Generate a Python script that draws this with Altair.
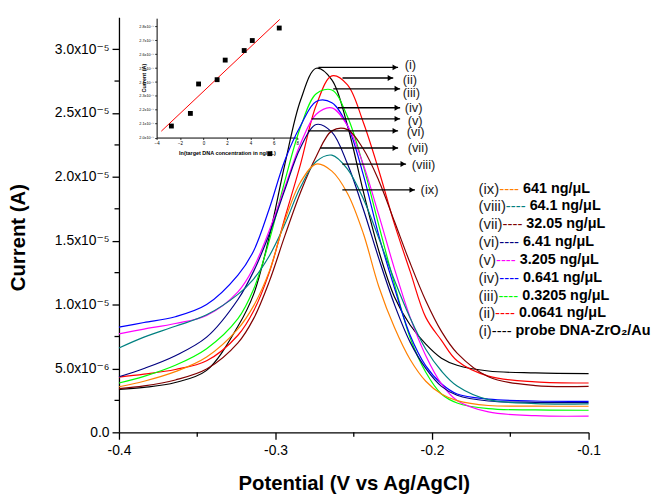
import altair as alt
import pandas as pd

FONT = "Liberation Sans, Arial, DejaVu Sans, sans-serif"

# ---------------- main DPV curves (current in 1e-6 A) ----------------
potential = [-0.400, -0.384, -0.364, -0.344, -0.324, -0.314, -0.304, -0.294, -0.284, -0.274, -0.264,
             -0.254, -0.244, -0.234, -0.224, -0.214, -0.204, -0.194, -0.184, -0.164, -0.134, -0.100]

cur_i = [3.36, 3.52, 3.90, 4.85, 8.3, 10.8, 15.3, 21.0, 26.0, 28.5, 27.6,
         24.0, 18.9, 14.2, 10.6, 8.4, 6.9, 5.8, 5.25, 4.8, 4.65, 4.6]
cur_ii = [4.32, 4.55, 4.92, 5.6, 7.6, 9.5, 12.5, 16.8, 21.0, 25.6, 27.9,
          27.2, 24.3, 20.5, 16.3, 12.6, 9.0, 7.2, 5.6, 4.4, 3.95, 3.86]
cur_iii = [3.86, 4.38, 5.25, 6.55, 8.9, 11.2, 15.0, 19.7, 23.9, 26.5, 26.8,
           24.7, 20.9, 16.2, 11.6, 7.4, 4.7, 3.0, 2.3, 1.85, 1.75, 1.73]
cur_iv = [8.23, 8.6, 9.05, 10.0, 12.3, 14.2, 17.5, 21.3, 24.0, 25.9, 25.8,
          24.0, 20.2, 15.4, 11.3, 7.6, 5.2, 3.8, 3.0, 2.6, 2.45, 2.43]
cur_v = [7.71, 8.08, 8.52, 9.15, 11.0, 12.9, 15.8, 19.2, 22.6, 24.9, 25.4,
         24.0, 21.0, 17.0, 12.8, 9.0, 6.0, 3.8, 2.5, 1.6, 1.3, 1.27]
cur_vi = [4.35, 5.0, 6.0, 7.45, 10.4, 12.6, 15.5, 19.0, 22.3, 24.1, 23.5,
          21.0, 17.5, 13.6, 10.0, 7.06, 5.0, 3.6, 2.9, 2.45, 2.35, 2.33]
cur_vii = [3.42, 3.63, 4.1, 4.95, 7.0, 8.9, 11.8, 15.4, 18.8, 21.6, 23.6,
           23.7, 22.2, 19.7, 16.5, 13.25, 10.3, 7.9, 6.2, 4.35, 3.66, 3.6]
cur_viii = [6.60, 7.45, 8.3, 9.2, 10.8, 12.0, 13.8, 16.3, 19.2, 21.2, 21.7,
            20.6, 18.3, 15.2, 11.9, 8.95, 6.5, 4.8, 3.63, 2.56, 2.25, 2.23]
cur_ix = [3.57, 4.0, 4.75, 5.9, 8.1, 9.9, 12.6, 16.6, 19.6, 21.0, 20.45,
          18.7, 15.6, 11.4, 8.2, 5.7, 4.0, 3.0, 2.48, 2.1, 2.05, 2.04]

series_keys = ["(i)", "(ii)", "(iii)", "(iv)", "(v)", "(vi)", "(vii)", "(viii)", "(ix)"]
series_colors = ["#000000", "#FF0000", "#00FF00", "#0000FF", "#FF00FF",
                 "#000080", "#800000", "#008080", "#FF8000"]
curves = [cur_i, cur_ii, cur_iii, cur_iv, cur_v, cur_vi, cur_vii, cur_viii, cur_ix]

# arrows pointing from peaks to roman-numeral labels
arrow_start = [-0.2726, -0.2572, -0.2631, -0.2601, -0.2769, -0.2793, -0.2715, -0.2573, -0.2573]
arrow_end = [-0.2217, -0.2248, -0.2204, -0.2204, -0.2204, -0.2217, -0.2217, -0.2166, -0.2109]
arrow_level = [28.57, 27.74, 26.89, 25.41, 24.54, 23.60, 22.26, 21.0, 18.98]
label_x = [-0.2175, -0.2187, -0.2187, -0.2175, -0.2156, -0.2162, -0.2156, -0.2130, -0.2073]
label_y = [28.73, 27.61, 26.57, 25.41, 24.38, 23.52, 22.26, 20.89, 18.98]

# legend text (top to bottom)
legend_keys = ["(ix)", "(viii)", "(vii)", "(vi)", "(v)", "(iv)", "(iii)", "(ii)", "(i)"]
legend_values = ["641 ng/μL", "64.1 ng/μL", "32.05 ng/μL", "6.41 ng/μL", "3.205 ng/μL",
                 "0.641 ng/μL", "0.3205 ng/μL", "0.0641 ng/μL", "probe DNA-ZrO₂/Au"]

# ---------------- inset calibration plot (current in 1e-5 A) ----------------
inset_ln_conc = [-2.74, -1.12, -0.42, 1.16, 1.85, 3.47, 4.16, 6.46, 5.66]
inset_current = [2.083, 2.174, 2.386, 2.417, 2.558, 2.627, 2.699, 2.789, 1.884]
fit_x = [-3.6, 6.5]
fit_y = [2.046, 2.851]

# ---------------- layout ----------------
W, H = 474, 419

rows = []
for k, vals in zip(series_keys, curves):
    for e, v in zip(potential, vals):
        rows.append({"E": e, "I": v, "s": k})
df = pd.DataFrame(rows)


def xs():
    return alt.Scale(domain=[-0.4, -0.1], nice=False, zero=False)


def ys():
    return alt.Scale(domain=[0, 32.5], nice=False, zero=False)


y_label_expr = ("datum.value == 0 ? '0.0' : (datum.value < 10 ? format(datum.value, '.1f') + 'x10⁻⁶'"
                " : format(datum.value / 10, '.1f') + 'x10⁻⁵')")
x_label_expr = "datum.value < 0 ? '-' + format(-datum.value, '.1f') : format(datum.value, '.1f')"

lines = alt.Chart(df).mark_line(strokeWidth=1.2, interpolate="catmull-rom").encode(
    x=alt.X("E:Q", scale=xs(), axis=alt.Axis(
        values=[-0.4, -0.3, -0.2, -0.1], labelExpr=x_label_expr, labelFlush=False,
        title="Potential (V vs Ag/AgCl)", titleFontSize=20.5, titleFontWeight="bold",
        titleY=58, titleBaseline="alphabetic", tickSize=7, tickWidth=1.3, domainWidth=1.3,
        labelFontSize=14, labelPadding=4)),
    y=alt.Y("I:Q", scale=ys(), axis=alt.Axis(
        values=[0, 5, 10, 15, 20, 25, 30], labelExpr=y_label_expr,
        title="Current (A)", titleFontSize=20.5, titleFontWeight="bold", titleAngle=270,
        titleX=-95, titleY=222, titleBaseline="alphabetic", titleAlign="center",
        tickSize=7, tickWidth=1.3, domainWidth=1.3, labelFontSize=14, labelPadding=3)),
    color=alt.Color("s:N", scale=alt.Scale(domain=series_keys, range=series_colors), legend=None),
    detail="s:N",
)

xminor = alt.Chart(pd.DataFrame({"v": [-0.35, -0.25, -0.15]})).mark_rule(
    color="black", strokeWidth=1.3).encode(
    x=alt.X("v:Q", scale=xs(), axis=None), y=alt.value(H), y2=alt.value(H + 4.5))

yminor = alt.Chart(pd.DataFrame({"v": [2.5, 7.5, 12.5, 17.5, 22.5, 27.5]})).mark_rule(
    color="black", strokeWidth=1.3).encode(
    y=alt.Y("v:Q", scale=ys(), axis=None), x=alt.value(-4.5), x2=alt.value(0))

adf = pd.DataFrame({"x1": arrow_start, "x2": arrow_end, "y": arrow_level,
                    "lab": series_keys, "lx": label_x, "ly": label_y})
arrows = alt.Chart(adf).mark_rule(color="black", strokeWidth=1.3).encode(
    x=alt.X("x1:Q", scale=xs(), axis=None), x2="x2:Q", y=alt.Y("y:Q", scale=ys(), axis=None))
heads = alt.Chart(adf).mark_point(shape="triangle-right", filled=True, color="black",
                                  opacity=1, size=36, xOffset=-3).encode(
    x=alt.X("x2:Q", scale=xs(), axis=None), y=alt.Y("y:Q", scale=ys(), axis=None))
alabels = alt.Chart(adf).mark_text(align="left", baseline="middle", fontSize=13,
                                   font=FONT, color="#222222").encode(
    x=alt.X("lx:Q", scale=xs(), axis=None), y=alt.Y("ly:Q", scale=ys(), axis=None), text="lab:N")

# legend block built from text widths (Arial metrics)
AW = {"(": .333, ")": .333, "i": .222, "v": .5, "x": .5, "-": .333, " ": .278}


def tw(s, size):
    return size * sum(AW.get(c, .556) for c in s)


LAB_FS, VAL_FS = 15, 14.5
LEG_X0, LEG_Y0, LEG_DY = 363.0, 173.0, 18.0
leg_rows = []
for j, k in enumerate(legend_keys):
    col = series_colors[series_keys.index(k)]
    xl = LEG_X0
    xd = xl + tw(k, LAB_FS)
    xv = xd + tw("----", LAB_FS) + 0.278 * VAL_FS
    leg_rows.append({"lab": k, "dash": "----", "val": legend_values[j], "c": col,
                     "y": LEG_Y0 + j * LEG_DY, "xl": xl, "xd": xd, "xv": xv})
ldf = pd.DataFrame(leg_rows)

leg_lab = alt.Chart(ldf).mark_text(align="left", baseline="middle", fontSize=LAB_FS,
                                   font=FONT, color="#222222").encode(
    x=alt.X("xl:Q", scale=None, axis=None), y=alt.Y("y:Q", scale=None, axis=None), text="lab:N")
leg_dash = alt.Chart(ldf).mark_text(align="left", baseline="middle", fontSize=LAB_FS,
                                    font=FONT).encode(
    x=alt.X("xd:Q", scale=None, axis=None), y=alt.Y("y:Q", scale=None, axis=None),
    text="dash:N", color=alt.Color("c:N", scale=None, legend=None))
leg_val = alt.Chart(ldf).mark_text(align="left", baseline="middle", fontSize=VAL_FS,
                                   fontWeight="bold", font=FONT, color="black").encode(
    x=alt.X("xv:Q", scale=None, axis=None), y=alt.Y("y:Q", scale=None, axis=None), text="val:N")

# ---------------- inset ----------------
IX0, IX1 = 38.0, 180.0
IY0, IY1 = 121.5, 1.0


def xi():
    return alt.Scale(domain=[-4, 8], range=[IX0, IX1], nice=False, zero=False)


def yi():
    return alt.Scale(domain=[2.0, 2.86], range=[IY0, IY1], nice=False, zero=False)


idf = pd.DataFrame({"c": inset_ln_conc, "i": inset_current})
fdf = pd.DataFrame({"c": fit_x, "i": fit_y})

inset_line = alt.Chart(fdf).mark_line(color="#FF0000", strokeWidth=1).encode(
    x=alt.X("c:Q", scale=xi(), axis=None), y=alt.Y("i:Q", scale=yi(), axis=None))
inset_pts = alt.Chart(idf).mark_square(color="black", opacity=1, size=24).encode(
    x=alt.X("c:Q", scale=xi(), axis=alt.Axis(
        orient="bottom", offset=IY0 - H, values=[-4, -2, 0, 2, 4, 6, 8], labelFlush=False,
        labelFontSize=4.5, labelPadding=1, tickSize=2, tickWidth=0.8, domainWidth=1,
        title="ln(target DNA concentration in ng/μL)", titleFontSize=5.5,
        titleFontWeight="bold", titleX=(IX0 + IX1) / 2, titleY=17,
        titleBaseline="alphabetic", titleAlign="center")),
    y=alt.Y("i:Q", scale=yi(), axis=alt.Axis(
        orient="left", offset=-IX0, values=[2.0, 2.1, 2.2, 2.3, 2.4, 2.5, 2.6, 2.7, 2.8],
        labelExpr="format(datum.value, '.1f') + 'x10⁻⁵'", labelFontSize=3.8, labelPadding=1,
        tickSize=2, tickWidth=0.8, domainWidth=1, title="Current (A)", titleFontSize=5.5,
        titleFontWeight="bold", titleAngle=270, titleX=-11.5, titleY=61,
        titleBaseline="alphabetic", titleAlign="center")),
)

chart = alt.layer(
    lines, xminor, yminor, arrows, heads, alabels, leg_lab, leg_dash, leg_val,
    inset_line, inset_pts,
).resolve_scale(x="independent", y="independent").properties(
    width=W, height=H,
    autosize=alt.AutoSizeParams(type="none"),
    padding={"left": 112, "top": 7, "right": 64, "bottom": 62},
).configure_view(stroke=None).configure_axis(
    grid=False, labelFont=FONT, titleFont=FONT, domainColor="black", tickColor="black",
    labelColor="black", titleColor="black")

chart.save("out.html", embed_options={"renderer": "svg", "actions": False})
